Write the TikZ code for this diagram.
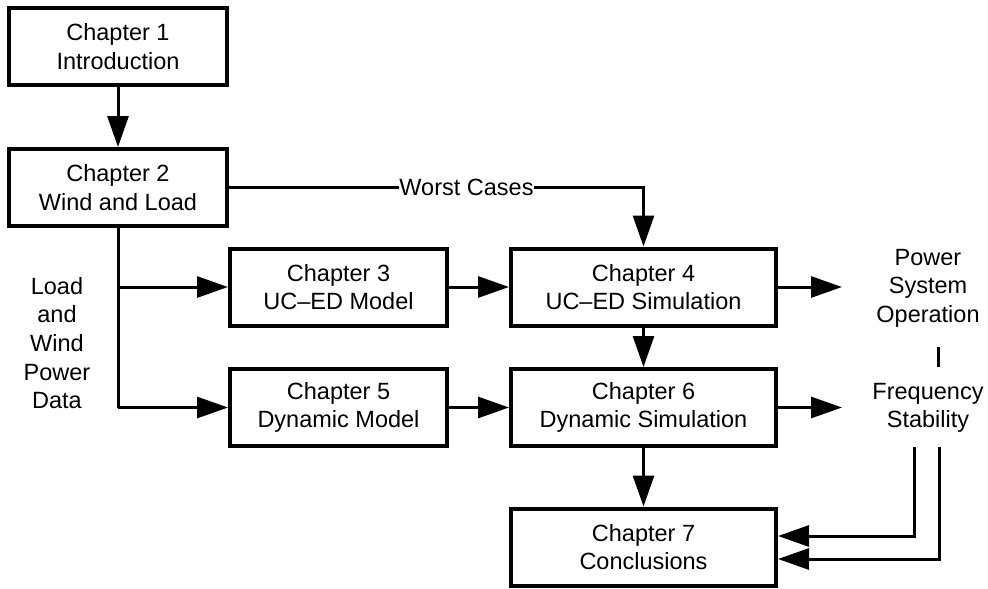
\documentclass[tikz,border=0pt]{standalone}
\usepackage{fontspec}
\setmainfont{Liberation Sans}
\usetikzlibrary{arrows.meta}
\begin{document}
\begin{tikzpicture}[x=1pt,y=-1pt,
  every node/.style={font=\fontsize{23.5}{28.6}\selectfont, align=center},
  chapbox/.style={draw, line width=4pt, minimum height=77pt, inner sep=0pt},
  narrowbox/.style={chapbox, minimum width=218pt},
  widebox/.style={chapbox, minimum width=265pt},
  link/.style={line width=3pt, -{Triangle[length=31pt,width=21pt]}},
  plain/.style={line width=3pt},
  label/.style={inner sep=0pt}]
\useasboundingbox (0,0) rectangle (988,589);

% chapter boxes
\node[narrowbox] (c1) at (118,46.5) {Chapter 1\\Introduction};
\node[narrowbox] (c2) at (118,187.5) {Chapter 2\\Wind and Load};
\node[narrowbox, minimum width=217pt] (c3) at (338.5,287) {Chapter 3\\UC--ED Model};
\node[widebox] (c4) at (643.5,287) {Chapter 4\\UC--ED Simulation};
\node[narrowbox, minimum width=217pt] (c5) at (338.5,407.5) {Chapter 5\\Dynamic Model};
\node[widebox] (c6) at (643.5,407.5) {Chapter 6\\Dynamic Simulation};
\node[widebox] (c7) at (643.5,547) {Chapter 7\\Conclusions};

% free-standing labels
\node[label] (data) at (57,343) {Load\\and\\Wind\\Power\\Data};
\node[label] (pso) at (928,288) {Power\\System\\Operation};
\node[label] (fs) at (928,408) {Frequency\\Stability};

% arrow ends on the right
\coordinate (e4) at (842,287);
\coordinate (e6) at (842,407.5);
\coordinate (bartop) at (938,347);
\coordinate (barbot) at (938,367);
\coordinate (fa) at (914,447);
\coordinate (fb) at (939,447);

% main flow
\draw[link] (c1) -- (c2);
\draw[plain] (c2.south) -- (c2.south |- c5.west);
\draw[link] (c2.south |- c5.west) -- (c5.west);
\draw[link] (c2.south |- c3.west) -- (c3.west);
\draw[link] (c3) -- (c4);
\draw[link] (c5) -- (c6);
\draw[link] (c4) -- (c6);
\draw[link] (c6) -- (c7);

% worst cases feed into chapter 4
\draw[link] (c2.east) -- (c4.north |- c2.east) -- (c4.north);
\node[label, fill=white] (wc) at (466.5,187) {Worst Cases};

% outputs
\draw[link] (c4.east) -- (e4);
\draw[link] (c6.east) -- (e6);
\draw[plain] (bartop) -- (barbot);

% feedback into conclusions
\draw[link] (fa) -- (fa |- 0,536) -- (c7.east |- 0,536);
\draw[link] (fb) -- (fb |- 0,559) -- (c7.east |- 0,559);
\end{tikzpicture}
\end{document}
